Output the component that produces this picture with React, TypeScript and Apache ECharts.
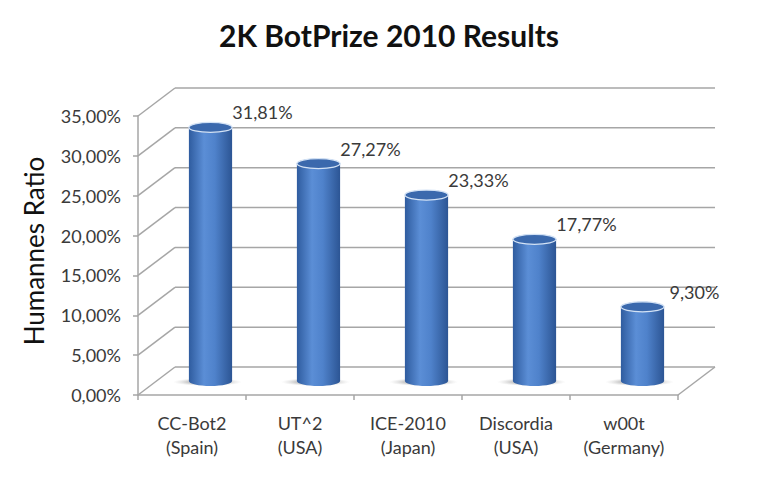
import React, { useEffect, useRef } from "react";
import * as echarts from "echarts";

const categories = [
  "CC-Bot2\n(Spain)",
  "UT^2\n(USA)",
  "ICE-2010\n(Japan)",
  "Discordia\n(USA)",
  "w00t\n(Germany)",
];
const values = [31.81, 27.27, 23.33, 17.77, 9.3];
const yTicks = [0, 5, 10, 15, 20, 25, 30, 35];

const TITLE = "2K BotPrize 2010 Results";
const Y_NAME = "Humannes Ratio";

const fmt = (v: number) => v.toFixed(2).replace(".", ",") + "%";

export default function App() {
  const ref = useRef<HTMLDivElement>(null);
  useEffect(() => {
    if (!ref.current) return;
    const chart = echarts.init(ref.current, null, { renderer: "svg" });
    const DX = 37;
    const DY = -28;
    const GRID = "#a6a6a6";
    const FONT = "Lato";
    const TXT = "#3a3a3a";
    const n = categories.length;

    chart.setOption({
      animation: false,
      backgroundColor: "#ffffff",
      title: {
        text: TITLE,
        left: 384,
        top: 15,
        textAlign: "center",
        textStyle: { fontFamily: FONT, fontWeight: "bold", fontSize: 30, color: "#111" },
      },
      graphic: [
        {
          type: "text",
          x: 34,
          y: 251,
          rotation: Math.PI / 2,
          style: {
            text: Y_NAME,
            font: `26px ${FONT}`,
            fill: "#111",
            align: "center",
            verticalAlign: "middle",
          },
        },
      ],
      grid: { left: 138, right: 105, top: 116, bottom: 93, containLabel: false },
      xAxis: {
        type: "category",
        data: categories,
        boundaryGap: true,
        axisLine: { show: true, lineStyle: { color: GRID, width: 1.5 } },
        axisTick: { show: true, length: 5, alignWithLabel: false, lineStyle: { color: GRID, width: 1.5 } },
        axisLabel: {
          margin: 16,
          fontFamily: FONT,
          fontSize: 18,
          lineHeight: 24,
          color: TXT,
          interval: 0,
        },
        splitLine: { show: false },
      },
      yAxis: {
        type: "value",
        min: 0,
        max: 35,
        interval: 5,
        axisLine: { show: true, lineStyle: { color: GRID, width: 1.5 } },
        axisTick: { show: true, length: 5, lineStyle: { color: GRID, width: 1.5 } },
        axisLabel: {
          margin: 17,
          fontFamily: FONT,
          fontSize: 18,
          color: TXT,
          formatter: (v: number) => fmt(v),
        },
        splitLine: { show: false },
      },
      series: [
        {
          type: "custom",
          name: "walls",
          silent: true,
          z: 1,
          data: yTicks.map((t) => [0, t]),
          encode: { x: 0, y: 1 },
          renderItem: (params: any, api: any) => {
            const v = api.value(1);
            const band = api.size([1, 0])[0];
            const p0 = api.coord([0, v]);
            const p1 = api.coord([n - 1, v]);
            const x0 = p0[0] - band / 2;
            const x1 = p1[0] + band / 2;
            const y = p0[1];
            const children: any[] = [
              {
                type: "line",
                shape: { x1: x0 + DX, y1: y + DY, x2: x1 + DX, y2: y + DY },
                style: { stroke: GRID, lineWidth: 1.5 },
              },
              {
                type: "line",
                shape: { x1: x0, y1: y, x2: x0 + DX, y2: y + DY },
                style: { stroke: GRID, lineWidth: 1.5 },
              },
            ];
            if (v === 0) {
              children.push({
                type: "line",
                shape: { x1: x1, y1: y, x2: x1 + DX, y2: y + DY },
                style: { stroke: GRID, lineWidth: 1.5 },
              });
            }
            return { type: "group", children };
          },
        },
        {
          type: "custom",
          name: "Humannes Ratio",
          z: 3,
          data: values.map((v, i) => [i, v]),
          encode: { x: 0, y: 1 },
          renderItem: (params: any, api: any) => {
            const i = api.value(0);
            const v = api.value(1);
            const band = api.size([1, 0])[0];
            const pt = api.coord([i, v]);
            const pb = api.coord([i, 0]);
            const cx = pt[0] + DX / 2;
            const top = pt[1] + DY / 2;
            const bot = pb[1] + DY / 2;
            const rx = (band * 0.4) / 2;
            const ry = 5;
            const bodyFill = new echarts.graphic.LinearGradient(0, 0, 1, 0, [
              { offset: 0, color: "#2f5c9f" },
              { offset: 0.35, color: "#5b8ed6" },
              { offset: 0.6, color: "#4f82cb" },
              { offset: 1, color: "#2c5594" },
            ]);
            const shadowFill = new echarts.graphic.RadialGradient(0.5, 0.5, 0.5, [
              { offset: 0, color: "rgba(120,120,120,0.75)" },
              { offset: 0.6, color: "rgba(150,150,150,0.45)" },
              { offset: 1, color: "rgba(200,200,200,0)" },
            ]);
            return {
              type: "group",
              children: [
                {
                  type: "ellipse",
                  shape: { cx: cx - 3, cy: bot + 1, rx: rx + 13, ry: 4 },
                  style: { fill: shadowFill },
                },
                {
                  type: "rect",
                  shape: { x: cx - rx, y: top, width: rx * 2, height: bot - top },
                  style: { fill: bodyFill },
                },
                {
                  type: "ellipse",
                  shape: { cx, cy: bot, rx, ry },
                  style: { fill: bodyFill },
                },
                {
                  type: "ellipse",
                  shape: { cx, cy: top, rx, ry },
                  style: { fill: "#3b69ad", stroke: "#d3e2f5", lineWidth: 1.3 },
                },
                {
                  type: "text",
                  x: cx + 52,
                  y: top - 15,
                  style: {
                    text: fmt(v),
                    font: `18px ${FONT}`,
                    fill: TXT,
                    align: "center",
                    verticalAlign: "middle",
                  },
                },
              ],
            };
          },
        },
      ],
    });
    return () => chart.dispose();
  }, []);
  return (
    <div
      ref={ref}
      style={{ position: "fixed", left: 0, top: 0, width: 783, height: 488, background: "#fff" }}
    />
  );
}
